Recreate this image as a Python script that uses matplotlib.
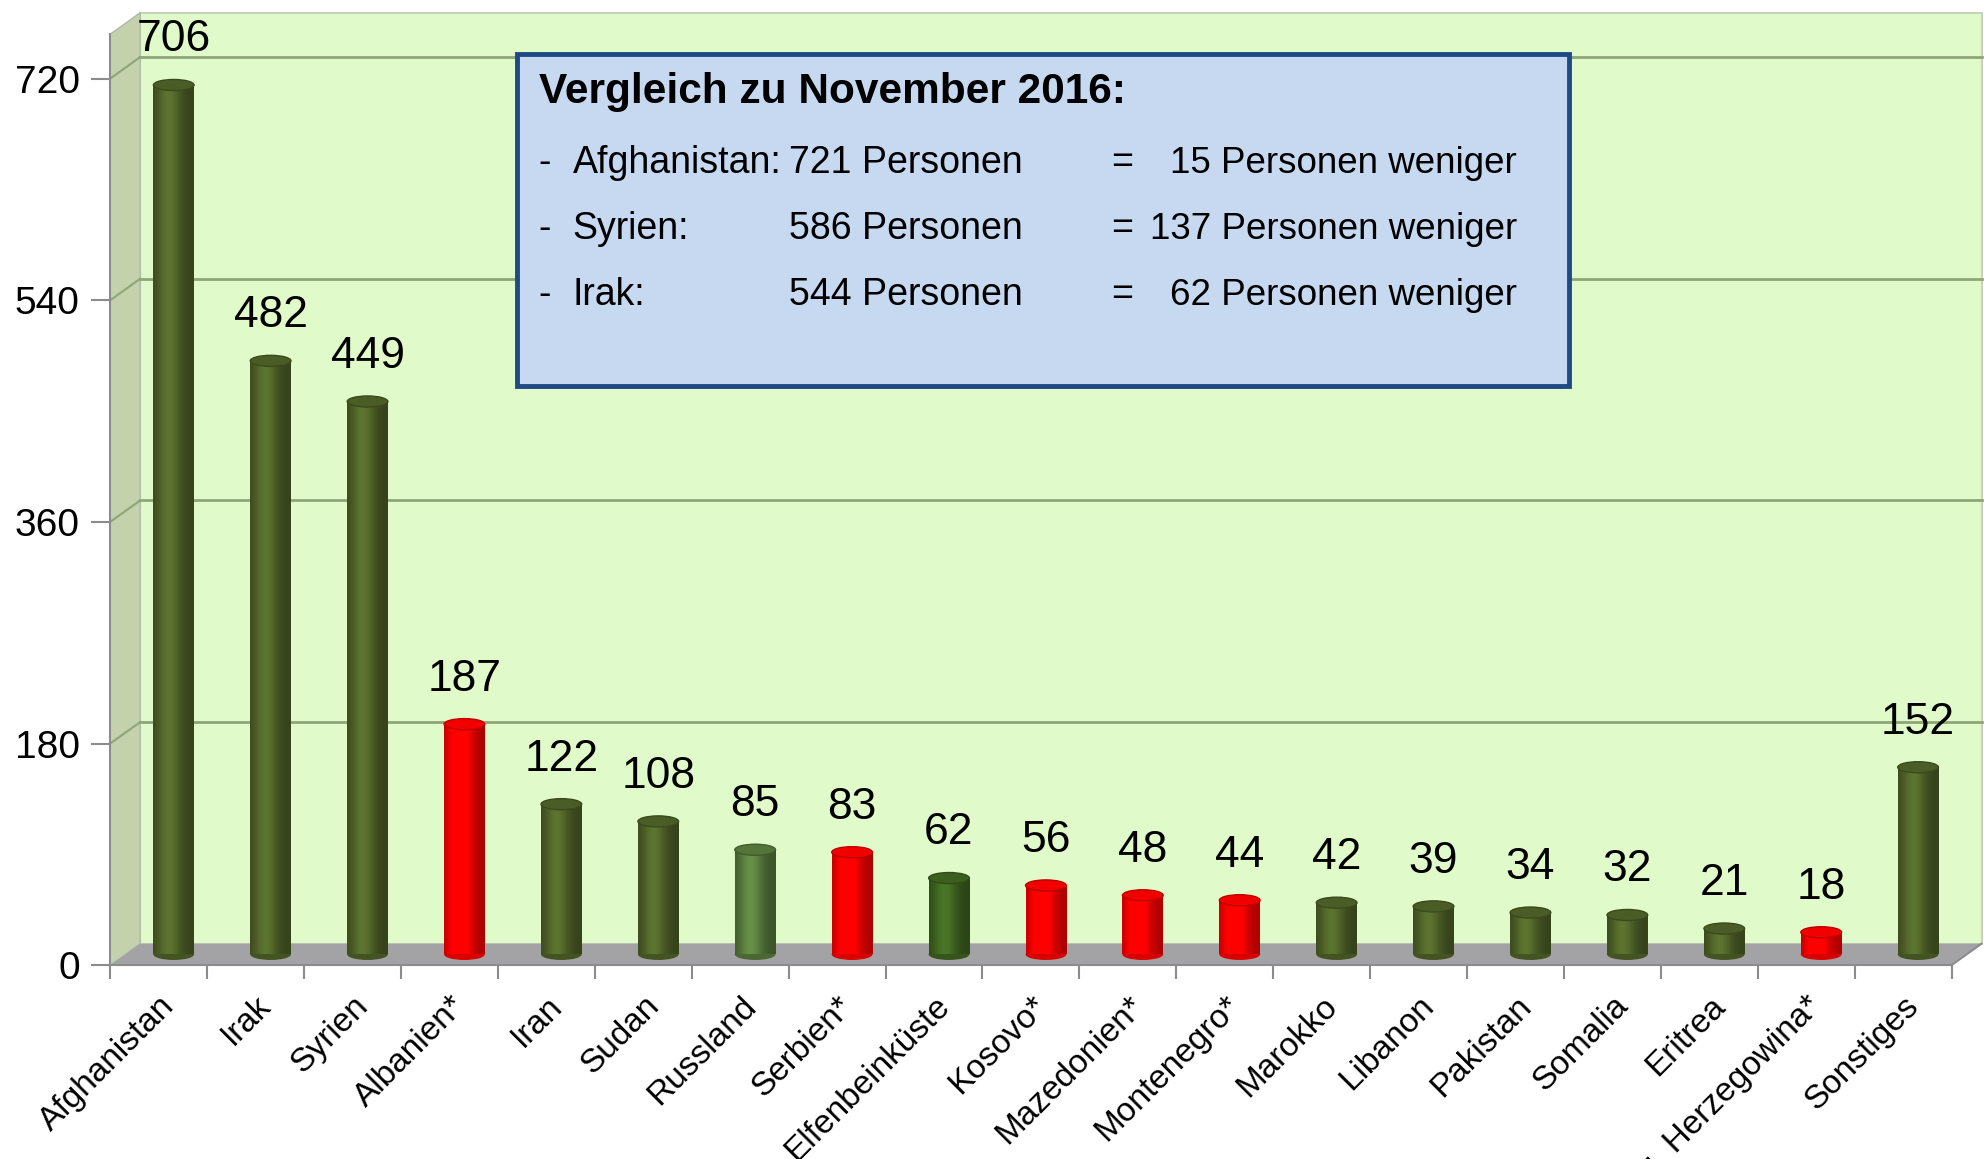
import numpy as np
import matplotlib.pyplot as plt
from matplotlib.patches import Polygon, Ellipse, Rectangle
from matplotlib.colors import to_rgb

plt.rcParams['font.family'] = ['Liberation Sans', 'DejaVu Sans']

# Daten
laender = ['Afghanistan', 'Irak', 'Syrien', 'Albanien*', 'Iran', 'Sudan', 'Russland',
           'Serbien*', 'Elfenbeinküste', 'Kosovo*', 'Mazedonien*', 'Montenegro*',
           'Marokko', 'Libanon', 'Pakistan', 'Somalia', 'Eritrea',
           'Bosnien u. Herzegowina*', 'Sonstiges']
personen = [706, 482, 449, 187, 122, 108, 85, 83, 62, 56, 48, 44, 42, 39, 34, 32, 21, 18, 152]
y_ticks = [0, 180, 360, 540, 720]

box_titel = 'Vergleich zu November 2016:'
box_laender = ['Afghanistan:', 'Syrien:', 'Irak:']
box_nov = ['721 Personen', '586 Personen', '544 Personen']
box_diff = ['15 Personen weniger', '137 Personen weniger', '62 Personen weniger']

# Farben
gruen = '#4f6228'
rot = '#ff0000'
sonder = {'Russland': '#587a3c', 'Elfenbeinküste': '#3f6420'}
wand = '#e1fac9'
seite = '#c3d1ad'
boden = '#a3a3a6'
gitter = '#8ea678'

# 3D-Tiefe in Datenkoordinaten
dx, dy = 0.31, 17.5
ytop = 756
n = len(laender)

fig = plt.figure(figsize=(19.87, 11.59), dpi=100)
ax = fig.add_axes([87 / 1568, (915 - 762) / 915, (1540 - 87) / 1568, ytop * 0.9722 / 915])
ax.set_xlim(-0.5, n - 0.5)
ax.set_ylim(0, ytop)

# Rueckwand, Seitenwand, Boden
ax.add_patch(Polygon([(-0.5 + dx, dy), (n - 0.5 + dx, dy), (n - 0.5 + dx, ytop + dy),
                      (-0.5 + dx, ytop + dy)], closed=True, fc=wand, ec='#c8d2be',
                     lw=1.5, clip_on=False, zorder=0))
ax.add_patch(Polygon([(-0.5, 0), (-0.5 + dx, dy), (-0.5 + dx, ytop + dy), (-0.5, ytop)],
                     closed=True, fc=seite, ec='#b0b8a6', lw=1, clip_on=False, zorder=0))
for v in y_ticks[1:]:
    ax.plot([-0.5 + dx, n - 0.5 + dx], [v + dy, v + dy], color=gitter, lw=2,
            clip_on=False, zorder=1)
    ax.plot([-0.5, -0.5 + dx], [v, v + dy], color=gitter, lw=1.5, clip_on=False, zorder=1)
ax.add_patch(Polygon([(-0.5, 0), (n - 0.5, 0), (n - 0.5 + dx, dy), (-0.5 + dx, dy)],
                     closed=True, fc=boden, ec='none', clip_on=False, zorder=1))
ax.plot([n - 0.5, n - 0.5 + dx], [0, dy], color='#8c8c8c', lw=1.5, clip_on=False, zorder=1)

# Zylinder
breite = 0.42
profil = np.linspace(0, 1, 64)
shade = 0.68 + 0.5 * np.exp(-((profil - 0.38) / 0.3) ** 2)
for i, (name, v) in enumerate(zip(laender, personen)):
    if name.endswith('*'):
        c = rot
    else:
        c = sonder.get(name, gruen)
    x0 = i + dx / 2
    b0 = dy / 2
    rgb = np.array(to_rgb(c))
    bars = ax.bar(x0, v, width=breite, bottom=b0, color=c, zorder=3)
    img = np.clip(rgb[None, None, :] * shade[None, :, None], 0, 1)
    im = ax.imshow(img, extent=(x0 - breite / 2, x0 + breite / 2, b0, b0 + v),
                   aspect='auto', zorder=3, interpolation='bilinear')
    im.set_clip_path(bars[0])
    ax.add_patch(Ellipse((x0, b0), breite, 9, fc=tuple(rgb * 0.85), ec='none', zorder=2.9))
    ax.add_patch(Ellipse((x0, b0 + v), breite, 9, fc=tuple(np.clip(rgb * 0.95, 0, 1)),
                         ec=tuple(rgb * 0.75), lw=1, zorder=4))
    ax.text(x0, b0 + v + 20, str(v), ha='center', va='bottom', fontsize=32, zorder=5)

ax.set_xlim(-0.5, n - 0.5)
ax.set_ylim(0, ytop)

# Achsen
for s in ['top', 'right']:
    ax.spines[s].set_visible(False)
for s in ['left', 'bottom']:
    ax.spines[s].set_color('#8c8c8c')
    ax.spines[s].set_linewidth(1.5)
    ax.spines[s].set_zorder(2)
ax.set_yticks(y_ticks)
ax.tick_params(axis='y', labelsize=28, length=14, width=1.5, color='#8c8c8c', pad=8)
ax.set_xticks(range(n))
ax.set_xticklabels(laender, rotation=45, ha='right', rotation_mode='anchor', fontsize=24)
ax.tick_params(axis='x', length=0, pad=18)
ax.set_xticks(np.arange(-0.5, n, 1), minor=True)
ax.tick_params(axis='x', which='minor', length=10, width=1.5, color='#8c8c8c')
ax.patch.set_visible(False)

# Textbox
fx = lambda px: px / 1568
fy = lambda py: 1 - py / 915
fig.patches.append(Rectangle((fx(408), fy(305)), fx(1238) - fx(408), fy(43) - fy(305),
                             transform=fig.transFigure, fc='#c6d9f1', ec='#1f4a85',
                             lw=3.5, zorder=10))
fig.text(fx(425), fy(73), box_titel, fontsize=30.5, fontweight='bold', va='center', zorder=11)
for k in range(3):
    yy = fy(129 + 52 * k)
    fig.text(fx(425), yy, '-', fontsize=27, va='center', zorder=11)
    fig.text(fx(452), yy, box_laender[k], fontsize=27, va='center', zorder=11)
    fig.text(fx(807), yy, box_nov[k], fontsize=27, va='center', ha='right', zorder=11)
    fig.text(fx(877), yy, '=', fontsize=27, va='center', zorder=11)
    fig.text(fx(1197), yy, box_diff[k], fontsize=26.5, va='center', ha='right', zorder=11)

fig.savefig('out.png', dpi=100)
